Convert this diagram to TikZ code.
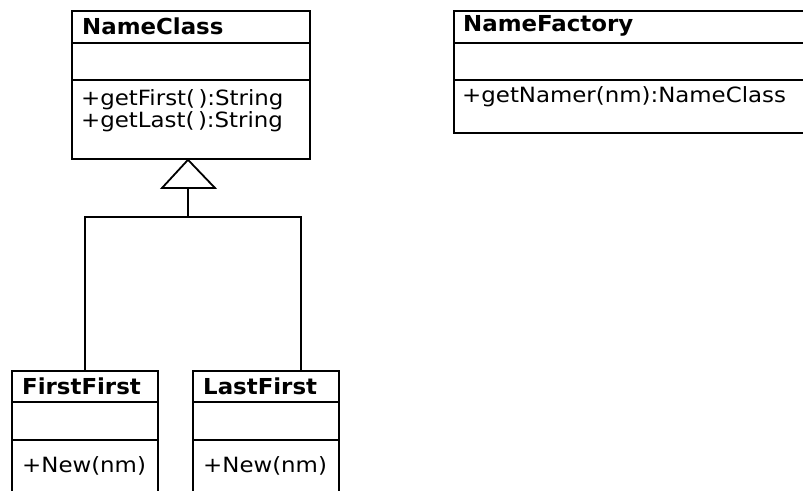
\documentclass[tikz,border=0pt]{standalone}
\usepackage{fontspec}
\setmainfont{DejaVu Sans}
\newfontfamily\umlfont[FakeStretch=1.09]{DejaVu Sans}
\newfontfamily\umltitlefont[FakeStretch=1.04]{DejaVu Sans}
\usetikzlibrary{positioning}

\begin{document}
\begin{tikzpicture}[
  x=1pt, y=-1pt,
  classbox/.style={draw=black, line width=1.8pt, anchor=north west, inner sep=0pt},
  divider/.style={line width=1.8pt},
  title/.style={font=\umltitlefont\fontsize{22}{26}\selectfont\bfseries, anchor=west, inner sep=0pt},
  member/.style={font=\umlfont\fontsize{21}{25}\selectfont, anchor=west, inner sep=0pt},
  link/.style={line width=1.8pt}
]
\useasboundingbox (0,0) rectangle (803,490);
\clip (0,0) rectangle (803,490);

% NameClass
\node[classbox, minimum width=238pt, minimum height=148pt] (NameClass) at (71,10) {};
\draw[divider] (71,43) -- (309,43);
\draw[divider] (71,80) -- (309,80);
\node[title] (ncT) at (82,26) {NameClass};
\node[member] (ncM1) at (81,100) {+getFirst(\,):String};
\node[member] (ncM2) at (81,122) {+getLast(\,):String};

% NameFactory
\node[classbox, minimum width=370pt, minimum height=122pt] (NameFactory) at (453,10) {};
\draw[divider] (453,43) -- (823,43);
\draw[divider] (453,80) -- (823,80);
\node[title] (nfT) at (463,26) {NameFactory};
\node[member] (nfM1) at (462,97) {+getNamer(nm):NameClass};

% FirstFirst
\node[classbox, minimum width=146pt, minimum height=140pt] (FirstFirst) at (11,370) {};
\draw[divider] (11,402) -- (157,402);
\draw[divider] (11,440) -- (157,440);
\node[title] (ffT) at (22,386) {FirstFirst};
\node[member] (ffM1) at (22,466) {+New(nm)};

% LastFirst
\node[classbox, minimum width=146pt, minimum height=140pt] (LastFirst) at (192,370) {};
\draw[divider] (192,402) -- (338,402);
\draw[divider] (192,440) -- (338,440);
\node[title] (lfT) at (203,386) {LastFirst};
\node[member] (lfM1) at (203,466) {+New(nm)};

% generalization
\coordinate (apex) at (NameClass.south -| 188,0);
\coordinate (base) at (188,188);
\coordinate (joint) at (188,217);
\coordinate (rightdrop) at (301,217);
\draw[link, fill=white] (apex) -- (162,188) -- (215,188) -- cycle;
\draw[link] (base) -- (joint);
\draw[link] (FirstFirst.north) -- (FirstFirst.north |- joint) -- (rightdrop) -- (rightdrop |- LastFirst.north);

\end{tikzpicture}
\end{document}
